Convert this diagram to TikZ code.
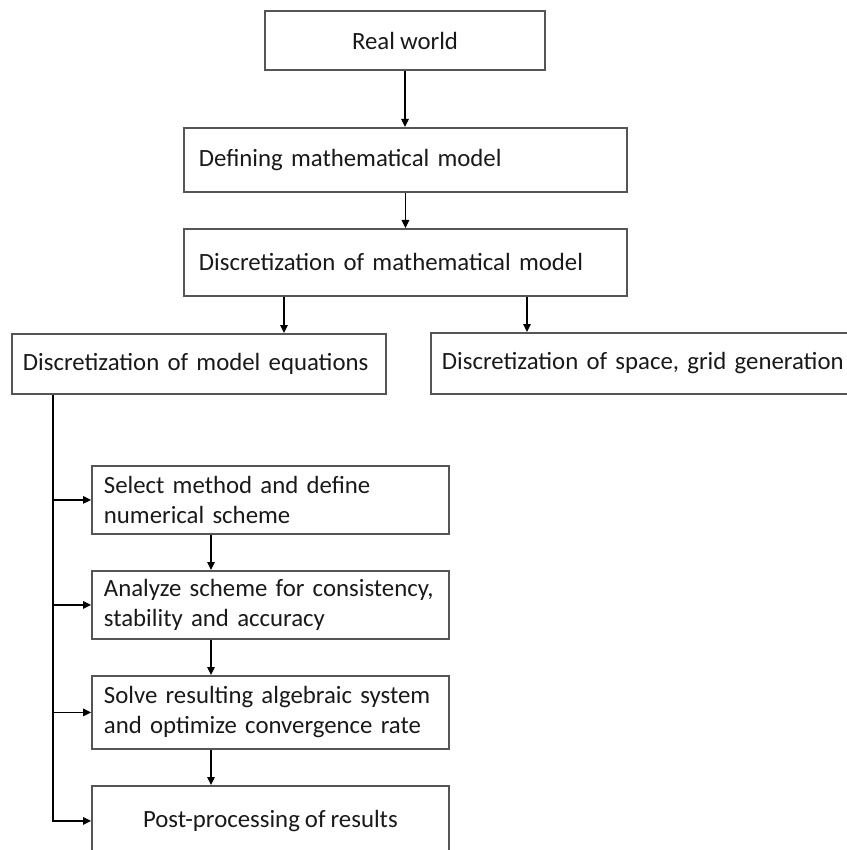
\documentclass[tikz,border=0pt]{standalone}
\usepackage{fontspec}
\setmainfont[WordSpace=0.9]{Carlito}
\usetikzlibrary{arrows.meta,calc}
\definecolor{boxgray}{RGB}{85,85,85}
\begin{document}
\begin{tikzpicture}[x=0.5pt,y=-0.5pt,
  box/.style={draw=boxgray,line width=0.9pt,inner ysep=0pt,font=\fontsize{12.4}{15}\selectfont,text=black!90},
  lbox/.style={box,anchor=north west,align=left},
  arr/.style={-{Triangle[length=4pt,width=3.8pt]},line width=0.6pt}]
\useasboundingbox (0,0) rectangle (846,850);
\node[box,minimum width=140pt,minimum height=29.5pt] (world) at (405,40.5) {Real world};
\node[lbox,inner xsep=7.5pt,text width=206.5pt,minimum height=32pt] (model) at (183,127) {Defining mathematical model};
\node[lbox,inner xsep=7.5pt,text width=206.5pt,minimum height=33.5pt] (discr) at (183,228) {Discretization of mathematical model};
\node[lbox,inner xsep=5.5pt,text width=176pt,minimum height=30pt] (equ) at (11,333) {Discretization of model equations};
\node[lbox,inner xsep=5.5pt,text width=210pt,minimum height=30.5pt] (space) at (430,332) {\mbox{Discretization of space, grid generation}};
\node[lbox,inner xsep=6pt,text width=166.5pt,minimum height=34pt] (select) at (91,465) {\mbox{Select method and define}\\\mbox{numerical scheme}};
\node[lbox,inner xsep=6pt,text width=166.5pt,minimum height=34pt] (analyze) at (91,570) {\mbox{Analyze scheme for consistency,}\\\mbox{stability and accuracy}};
\node[lbox,inner xsep=6pt,text width=166.5pt,minimum height=36.5pt] (solve) at (91,675) {\mbox{Solve resulting algebraic system}\\\mbox{and optimize convergence rate}};
\node[box,anchor=north west,minimum width=178.5pt,minimum height=35pt] (post) at (91,785) {Post-processing of results};
\draw[arr] (world) -- (world |- model.north);
\draw[arr] (model) -- (model |- discr.north);
\draw[arr] ($(discr.south west)+(101,0)$) -- ($(equ.north west)+(273,0)$);
\draw[arr] ($(discr.south west)+(344,0)$) -- ($(space.north west)+(97,0)$);
\coordinate (bus) at ($(equ.south west)+(42,0)$);
\draw[arr] (bus) |- (post.west);
\foreach \n in {select,analyze,solve}
  \draw[arr] (bus |- \n.west) -- (\n.west);
\foreach \a/\b in {select/analyze,analyze/solve,solve/post}
  \draw[arr] ($(\a.south west)+(120,0)$) -- ($(\b.north west)+(120,0)$);
\end{tikzpicture}
\end{document}
